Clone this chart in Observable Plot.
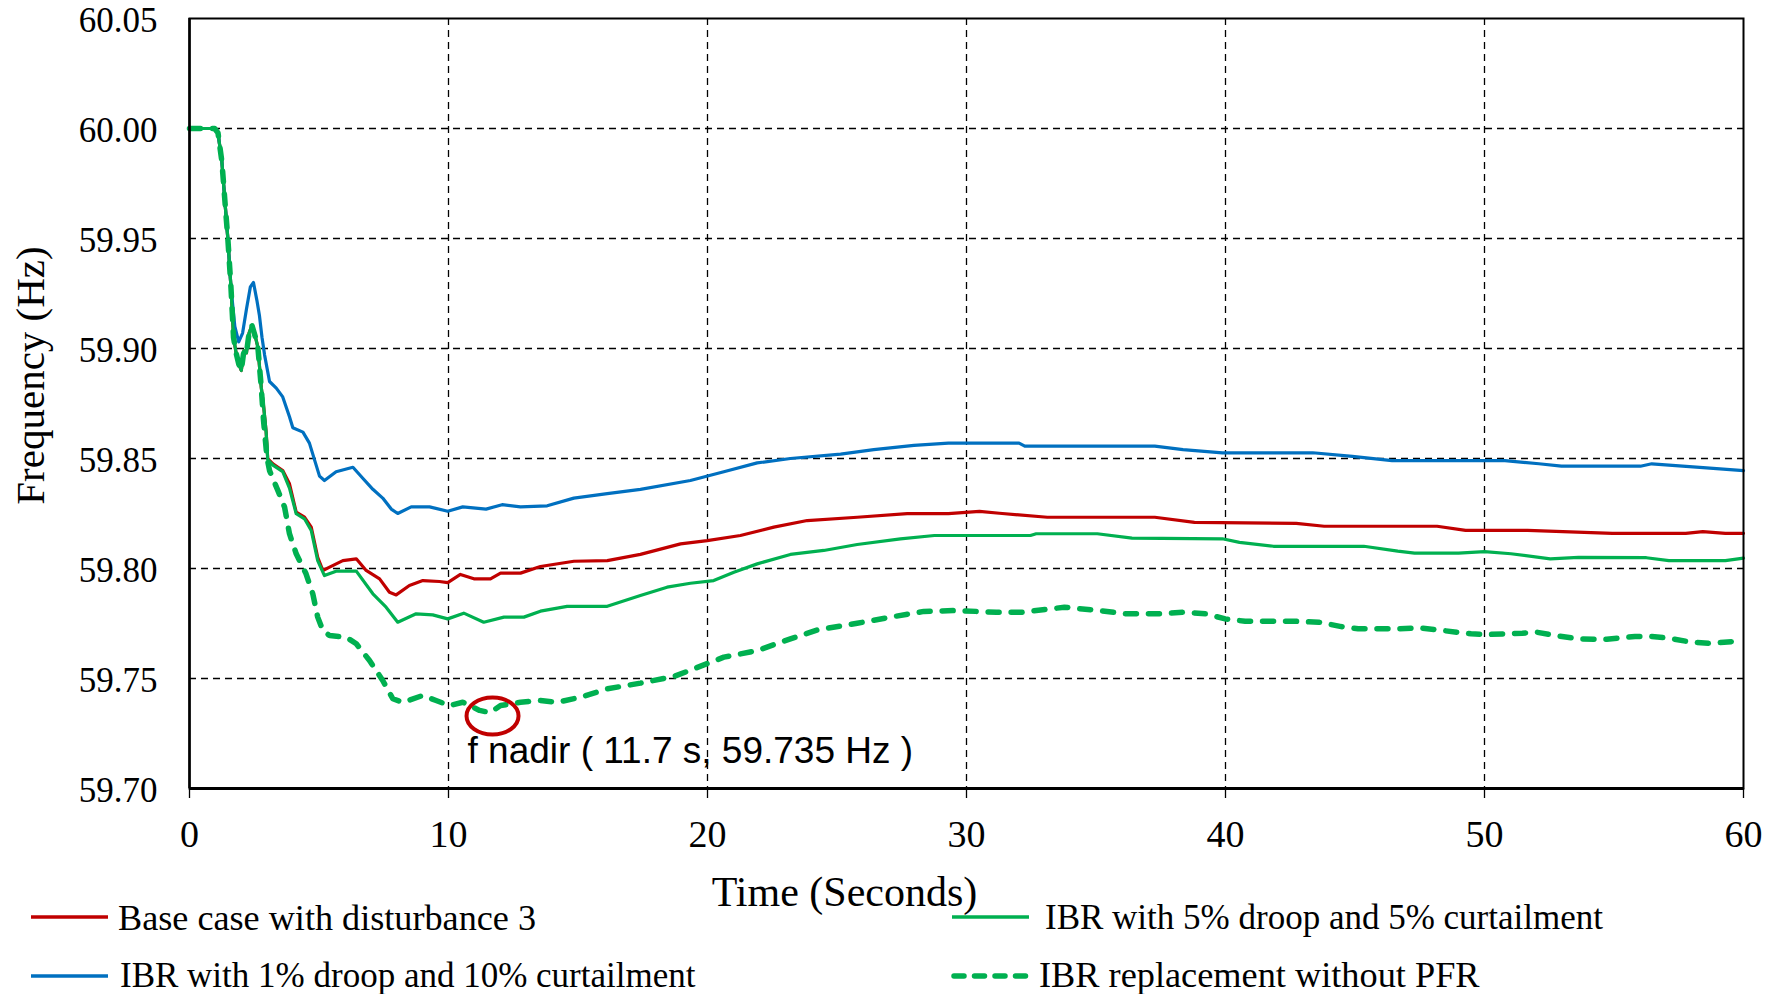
<!DOCTYPE html>
<html>
<head>
<meta charset="utf-8">
<script src="https://cdn.jsdelivr.net/npm/d3@7"></script>
<script src="https://cdn.jsdelivr.net/npm/@observablehq/plot@0.6"></script>
<style>
  body { margin: 0; background: #fff; }
  #wrap { position: relative; width: 1786px; height: 994px; overflow: hidden; background: #fff; }
  #chart { position: absolute; left: 0; top: 0; }
  .leg { position: absolute; font-family: "Liberation Serif", "Times New Roman", serif; line-height: 1; color: #000; white-space: nowrap; }
  .sw { position: absolute; }
</style>
</head>
<body>
<div id="wrap">
  <div id="chart"></div>
</div>
<script>
// ---- data ----
const xTicks = [0, 10, 20, 30, 40, 50, 60];
const yTicks = [59.70, 59.75, 59.80, 59.85, 59.90, 59.95, 60.00, 60.05];
const xGrid = [10, 20, 30, 40, 50];
const yGrid = [59.75, 59.80, 59.85, 59.90, 59.95, 60.00];

const seriesNames = [
  "Base case with disturbance 3",
  "IBR with 1% droop and 10% curtailment",
  "IBR with 5% droop and 5% curtailment",
  "IBR replacement without PFR"
];
const seriesColors = ["#C00000", "#0070C0", "#00B050", "#00B050"];

const baseCase = [
  [0,60],[0.97,60],[1.1,59.998],[1.25,59.985],[1.4,59.962],[1.48,59.95],[1.6,59.928],[1.7,59.905],[1.8,59.898],[1.9,59.893],
  [2.0,59.890],[2.1,59.899],[2.2,59.898],[2.3,59.907],[2.41,59.9105],[2.55,59.905],[2.64,59.9006],[2.77,59.8824],[2.86,59.874],[2.96,59.862],
  [3.02,59.850],[3.22,59.8476],[3.6,59.8445],[3.86,59.8385],[4.12,59.8256],[4.44,59.8233],[4.70,59.8188],[4.95,59.8051],[5.15,59.7991],[5.41,59.8006],
  [5.92,59.8036],[6.44,59.8044],[6.82,59.7991],[7.34,59.7953],[7.72,59.7892],[7.98,59.788],[8.49,59.7923],[9.01,59.7945],[9.65,59.7941],[9.97,59.7936],
  [10.46,59.7973],[10.98,59.7953],[11.62,59.7953],[12.01,59.7979],[12.78,59.7979],[13.55,59.8009],[14.84,59.8033],[16.13,59.8036],[17.41,59.8064],[18.96,59.8112],
  [19.99,59.8127],[21.27,59.815],[22.56,59.8188],[23.85,59.8218],[25.78,59.8233],[27.71,59.8249],[29.3,59.8249],[30.5,59.826],[31.27,59.8251],[33.12,59.8233],
  [37.27,59.8233],[38.8,59.821],[42.73,59.8205],[43.81,59.8192],[48.17,59.8192],[49.27,59.8173],[51.66,59.8173],[54.94,59.816],[57.77,59.816],[58.43,59.8168],
  [59.3,59.816],[60,59.816]
];

const ibrDroop1 = [
  [0,60],[0.97,60],[1.1,59.998],[1.25,59.985],[1.4,59.962],[1.48,59.95],[1.6,59.928],[1.75,59.910],[1.9,59.903],[2.05,59.907],
  [2.2,59.918],[2.35,59.928],[2.47,59.930],[2.6,59.922],[2.7,59.915],[2.8,59.905],[2.9,59.897],[3.09,59.885],[3.35,59.882],[3.6,59.878],
  [3.86,59.869],[3.99,59.864],[4.38,59.862],[4.63,59.857],[5.02,59.842],[5.21,59.840],[5.66,59.844],[6.31,59.846],[6.69,59.841],[7.08,59.836],
  [7.46,59.832],[7.79,59.827],[8.04,59.825],[8.56,59.828],[9.27,59.828],[9.97,59.826],[10.55,59.828],[11.45,59.827],[12.07,59.829],[12.78,59.828],
  [13.81,59.8285],[14.84,59.832],[16.13,59.834],[17.41,59.836],[19.34,59.840],[20.63,59.844],[21.92,59.848],[23.2,59.850],[25.14,59.852],[26.42,59.854],
  [27.97,59.856],[29.3,59.857],[32.03,59.857],[32.25,59.8556],[37.27,59.8556],[38.36,59.854],[39.88,59.8526],[43.37,59.8526],[44.9,59.851],[46.43,59.849],
  [50.79,59.849],[52.1,59.8476],[52.97,59.8465],[56.02,59.8465],[56.46,59.8476],[58.31,59.846],[60,59.8445]
];

const ibrDroop5 = [
  [0,60],[0.97,60],[1.1,59.998],[1.25,59.985],[1.4,59.962],[1.48,59.95],[1.6,59.928],[1.7,59.905],[1.8,59.898],[1.9,59.893],
  [2.0,59.890],[2.1,59.899],[2.2,59.898],[2.3,59.907],[2.41,59.9105],[2.55,59.905],[2.64,59.9006],[2.77,59.8824],[2.86,59.874],[2.96,59.862],
  [3.02,59.8495],[3.22,59.847],[3.6,59.844],[3.86,59.8365],[4.12,59.8249],[4.44,59.8226],[4.70,59.8173],[4.95,59.8036],[5.21,59.7968],[5.66,59.7988],
  [6.44,59.7988],[7.08,59.7885],[7.59,59.7824],[8.04,59.7756],[8.75,59.7794],[9.39,59.7789],[9.97,59.7771],[10.59,59.7797],[11.36,59.7756],[12.14,59.7779],
  [12.91,59.7779],[13.55,59.7806],[14.58,59.7828],[16.13,59.7828],[17.41,59.7877],[18.44,59.7915],[19.34,59.7933],[20.24,59.7945],[21.02,59.7983],[21.92,59.8021],
  [23.2,59.8064],[24.49,59.8082],[25.78,59.8109],[27.45,59.8135],[28.76,59.815],[32.47,59.815],[32.69,59.8158],[35.05,59.8158],[36.39,59.8138],[39.88,59.8135],
  [40.54,59.8119],[41.85,59.8101],[45.34,59.8101],[46.65,59.8079],[47.3,59.807],[49.0,59.807],[50.0,59.8077],[51.02,59.8067],[52.54,59.8044],[53.63,59.8051],
  [56.25,59.8049],[57.12,59.8036],[59.3,59.8036],[60,59.8047]
];

const ibrNoPfr = [
  [0,60],[0.97,60],[1.1,59.998],[1.25,59.985],[1.4,59.962],[1.48,59.95],[1.6,59.928],[1.7,59.905],[1.8,59.898],[1.9,59.893],
  [2.0,59.890],[2.1,59.899],[2.2,59.898],[2.3,59.907],[2.41,59.9105],[2.55,59.905],[2.64,59.9006],[2.77,59.8824],[2.86,59.867],[2.99,59.8506],
  [3.09,59.8445],[3.41,59.8355],[3.67,59.8279],[3.86,59.8158],[4.12,59.8067],[4.50,59.7976],[4.76,59.7885],[4.95,59.7779],[5.15,59.7718],[5.41,59.7695],
  [6.05,59.7688],[6.44,59.7658],[6.95,59.7582],[7.46,59.7491],[7.85,59.7408],[8.24,59.7392],[9.01,59.7423],[9.52,59.740],[10.04,59.7377],[10.55,59.7392],
  [11.2,59.7355],[11.6,59.7345],[12.01,59.7377],[12.78,59.7392],[13.55,59.740],[14.2,59.7392],[15.1,59.7415],[16.13,59.7453],[17.41,59.7479],[18.7,59.7509],
  [19.47,59.7544],[20.63,59.7597],[21.92,59.7627],[23.2,59.768],[24.24,59.7721],[25.78,59.7751],[27.07,59.7779],[28.35,59.7805],[29.63,59.7809],[31.16,59.7801],
  [32.14,59.7801],[33.78,59.7824],[35.08,59.7809],[36.18,59.7794],[37.49,59.7794],[38.36,59.7801],[39.24,59.7794],[39.99,59.7771],[40.76,59.776],[42.72,59.776],
  [43.6,59.7756],[44.47,59.7736],[45.12,59.7726],[46.65,59.7726],[47.52,59.773],[48.4,59.7718],[49.48,59.7703],[50.14,59.770],[51.46,59.7706],[51.99,59.7711],
  [52.76,59.7695],[53.63,59.768],[54.72,59.7678],[55.81,59.7691],[56.46,59.7691],[57.12,59.7683],[57.99,59.7665],[58.64,59.766],[59.74,59.7669]
];

const nadir = [{t: 11.7, f: 59.735, label: "f nadir ( 11.7 s, 59.735 Hz )"}];
const xTitle = "Time (Seconds)";
const yTitle = "Frequency (Hz)";

// ---- chart ----
const ellipseSymbol = {
  draw(ctx) {
    const rx = 26, ry = 18.5, k = 0.5523;
    ctx.moveTo(rx, 0);
    ctx.bezierCurveTo(rx, ry * k, rx * k, ry, 0, ry);
    ctx.bezierCurveTo(-rx * k, ry, -rx, ry * k, -rx, 0);
    ctx.bezierCurveTo(-rx, -ry * k, -rx * k, -ry, 0, -ry);
    ctx.bezierCurveTo(rx * k, -ry, rx, -ry * k, rx, 0);
    ctx.closePath();
  }
};

const gridStyle = {stroke: "#000", strokeOpacity: 1, strokeWidth: 1.3, strokeDasharray: "7,5"};
const X = d => d[0], Y = d => d[1];

const chart = Plot.plot({
  width: 1786,
  height: 900,
  marginLeft: 189,
  marginRight: 43,
  marginTop: 18,
  marginBottom: 112,
  style: {fontFamily: "'Liberation Serif', 'Times New Roman', serif", overflow: "visible", background: "white", color: "#000"},
  x: {domain: [0, 60]},
  y: {domain: [59.70, 60.05]},
  marks: [
    Plot.gridX({ticks: xGrid, ...gridStyle}),
    Plot.gridY({ticks: yGrid, ...gridStyle}),
    Plot.line(baseCase, {x: X, y: Y, stroke: seriesColors[0], strokeWidth: 3.2, strokeLinejoin: "round"}),
    Plot.line(ibrDroop1, {x: X, y: Y, stroke: seriesColors[1], strokeWidth: 3.2, strokeLinejoin: "round"}),
    Plot.line(ibrDroop5, {x: X, y: Y, stroke: seriesColors[2], strokeWidth: 3.2, strokeLinejoin: "round"}),
    Plot.line(ibrNoPfr, {x: X, y: Y, stroke: seriesColors[3], strokeWidth: 5.5, strokeDasharray: "11,12", strokeLinecap: "round", strokeLinejoin: "round"}),
    Plot.frame({stroke: "#000", strokeWidth: 2}),
    Plot.ruleY([59.70], {stroke: "#000", strokeWidth: 3}),
    Plot.ruleX([0], {stroke: "#000", strokeWidth: 2.5}),
    Plot.axisX({ticks: xTicks, tickSize: 10, tickPadding: 22, fontSize: 38, label: null, tickFormat: d => String(d), stroke: "#000", strokeWidth: 1.3}),
    Plot.axisY({ticks: yTicks, tickSize: 0, tickPadding: 32, fontSize: 35, label: null, tickFormat: d => d.toFixed(2), dy: 2}),
    Plot.text([xTitle], {frameAnchor: "bottom", textAnchor: "middle", lineAnchor: "middle", text: d => d, dx: -122, dy: 104, fontSize: 42, fill: "#000"}),
    Plot.text([yTitle], {frameAnchor: "left", textAnchor: "middle", lineAnchor: "middle", text: d => d, rotate: -90, dx: -159, dy: -28, fontSize: 41, fill: "#000"}),
    Plot.dot(nadir, {x: "t", y: "f", symbol: ellipseSymbol, stroke: "#C00000", strokeWidth: 4, fill: "none", dy: 4.5}),
    Plot.text(nadir, {x: "t", y: "f", text: "label", textAnchor: "start", lineAnchor: "middle", dx: -25, dy: 40, fontSize: 37, fontFamily: "'Liberation Sans', Arial, sans-serif", fill: "#000"})
  ]
});
document.getElementById("chart").appendChild(chart);

// ---- legend (HTML below the plot frame) ----
const legendItems = [
  {i: 0, lineX: 31, lineY: 917, textX: 118, baseline: 930, size: 36.2, dashed: false},
  {i: 1, lineX: 31, lineY: 976, textX: 120, baseline: 987.5, size: 35, dashed: false},
  {i: 2, lineX: 952, lineY: 917, textX: 1045, baseline: 929, size: 35, dashed: false},
  {i: 3, lineX: 951, lineY: 976, textX: 1039, baseline: 987.5, size: 36.3, dashed: true}
];
const wrap = document.getElementById("wrap");
for (const it of legendItems) {
  const sw = document.createElementNS("http://www.w3.org/2000/svg", "svg");
  sw.setAttribute("class", "sw");
  sw.setAttribute("width", 80);
  sw.setAttribute("height", 12);
  sw.style.left = it.lineX + "px";
  sw.style.top = (it.lineY - 6) + "px";
  const ln = document.createElementNS("http://www.w3.org/2000/svg", "line");
  ln.setAttribute("x1", it.dashed ? 3 : 0);
  ln.setAttribute("x2", it.dashed ? 75 : 77);
  ln.setAttribute("y1", 6);
  ln.setAttribute("y2", 6);
  ln.setAttribute("stroke", seriesColors[it.i]);
  ln.setAttribute("stroke-width", it.dashed ? 5.5 : 3.5);
  if (it.dashed) { ln.setAttribute("stroke-dasharray", "10,10.5"); ln.setAttribute("stroke-linecap", "round"); }
  sw.appendChild(ln);
  wrap.appendChild(sw);
  const tx = document.createElement("div");
  tx.className = "leg";
  tx.textContent = seriesNames[it.i];
  tx.style.fontSize = it.size + "px";
  tx.style.left = it.textX + "px";
  tx.style.top = (it.baseline - 0.8375 * it.size) + "px";
  wrap.appendChild(tx);
}
</script>
</body>
</html>
